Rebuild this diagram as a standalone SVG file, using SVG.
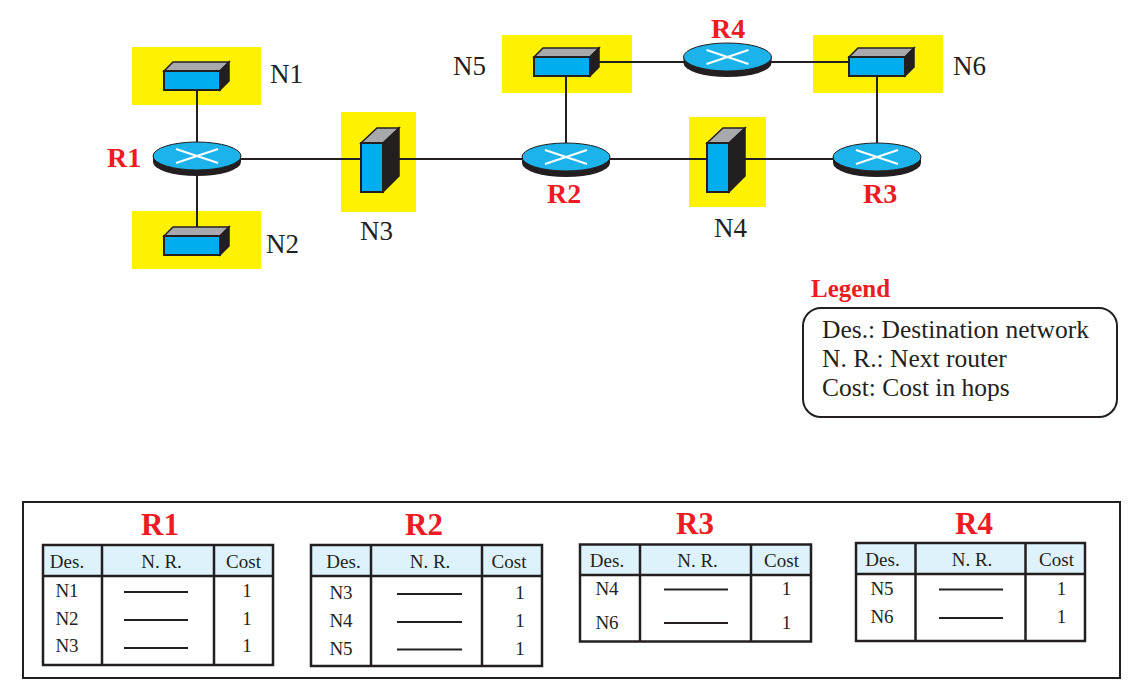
<svg xmlns="http://www.w3.org/2000/svg" width="1148" height="698" viewBox="0 0 1148 698">
<defs>
<style>
.bg{fill:#fff200}
.wire{stroke:#231f20;stroke-width:2;fill:none}
.lbl{font-family:"Liberation Serif","Times New Roman",serif;font-size:27px;fill:#231f20}
.rl{font-family:"Liberation Serif","Times New Roman",serif;font-size:28px;font-weight:bold;fill:#ed1c24}
.tt{font-family:"Liberation Serif","Times New Roman",serif;font-size:31px;font-weight:bold;fill:#ed1c24;text-anchor:middle}
.lg{font-family:"Liberation Serif","Times New Roman",serif;font-size:25.5px;fill:#231f20}
.tx{font-family:"Liberation Serif","Times New Roman",serif;font-size:19px;fill:#231f20;text-anchor:middle}
.hd{fill:#def2fb}
.tb{fill:none;stroke:#231f20;stroke-width:2.5}
.dash{stroke:#231f20;stroke-width:2}
</style>
<g id="router">
<path d="M-44,0 L-44,6 A44 14 0 0 0 44,6 L44,0 Z" fill="#231f20"/>
<ellipse cx="0" cy="0" rx="44" ry="14" fill="#1cb3ea" stroke="#231f20" stroke-width="1"/>
<path d="M-21,-7 L21,7 M-21,7 L21,-7" stroke="#fff" stroke-width="2"/>
</g>
<g id="hsw">
<polygon points="0,0 9,-9 65,-9 56,0" fill="#a7a9ac" stroke="#231f20" stroke-width="1.5"/>
<polygon points="56,0 65,-9 65,10 56,19" fill="#231f20" stroke="#231f20" stroke-width="1.5"/>
<rect x="0" y="0" width="56" height="19" fill="#00aeef" stroke="#231f20" stroke-width="2"/>
</g>
<g id="vsw">
<polygon points="0,0 16,-15 38,-15 22,0" fill="#a7a9ac" stroke="#231f20" stroke-width="1.5"/>
<polygon points="22,0 38,-15 38,33 22,49" fill="#231f20" stroke="#231f20" stroke-width="1.5"/>
<rect x="0" y="0" width="22" height="49" fill="#00aeef" stroke="#231f20" stroke-width="2"/>
</g>
</defs>
<rect width="1148" height="698" fill="#fff"/>

<g id="backgrounds">
<rect class="bg" x="132" y="47" width="129" height="58"/>
<rect class="bg" x="132" y="211" width="129" height="58"/>
<rect class="bg" x="341" y="112" width="75" height="100"/>
<rect class="bg" x="689" y="117" width="77" height="90"/>
<rect class="bg" x="502" y="35" width="130" height="58"/>
<rect class="bg" x="813" y="35" width="130" height="58"/>
</g>

<g id="connectors">
<line class="wire" x1="197" y1="159" x2="877" y2="159"/>
<line class="wire" x1="197" y1="90" x2="197" y2="237"/>
<line class="wire" x1="566" y1="76" x2="566" y2="157"/>
<line class="wire" x1="877" y1="76" x2="877" y2="157"/>
<line class="wire" x1="590" y1="62" x2="849" y2="62"/>
</g>

<g id="N1"><use href="#hsw" transform="translate(164,71)"/><text class="lbl" x="270" y="83">N1</text></g>
<g id="N2"><use href="#hsw" transform="translate(164,236)"/><text class="lbl" x="266" y="253">N2</text></g>
<g id="N3"><use href="#vsw" transform="translate(361,143)"/><text class="lbl" x="360" y="240">N3</text></g>
<g id="N4"><use href="#vsw" transform="translate(707,143)"/><text class="lbl" x="714" y="237">N4</text></g>
<g id="N5"><use href="#hsw" transform="translate(534,57)"/><text class="lbl" x="453" y="75">N5</text></g>
<g id="N6"><use href="#hsw" transform="translate(849,57)"/><text class="lbl" x="953" y="75">N6</text></g>

<g id="R1"><use href="#router" transform="translate(197,156)"/><text class="rl" x="107" y="167">R1</text></g>
<g id="R2"><use href="#router" transform="translate(566,157)"/><text class="rl" x="547" y="203">R2</text></g>
<g id="R3"><use href="#router" transform="translate(877,157)"/><text class="rl" x="863" y="203">R3</text></g>
<g id="R4"><use href="#router" transform="translate(727.5,57)"/><text class="rl" x="711" y="38">R4</text></g>

<g id="legend">
<text class="rl" x="811" y="297" style="font-size:25px">Legend</text>
<rect x="803" y="308" width="314" height="109" rx="18" fill="none" stroke="#231f20" stroke-width="2"/>
<text class="lg" x="822" y="338">Des.: Destination network</text>
<text class="lg" x="822" y="367">N. R.: Next router</text>
<text class="lg" x="822" y="396">Cost: Cost in hops</text>
</g>

<g id="tables">
<rect x="23" y="502" width="1097" height="176" fill="none" stroke="#231f20" stroke-width="2"/>

<g id="table-R1">
<text class="tt" x="160" y="535">R1</text>
<rect class="hd" x="43" y="545" width="230" height="31"/>
<rect class="tb" x="43" y="545" width="230" height="120"/>
<path class="tb" d="M43,576 H273 M102,545 V665 M214,545 V665"/>
<text class="tx" x="67" y="568">Des.</text>
<text class="tx" x="161.5" y="568">N. R.</text>
<text class="tx" x="243.5" y="568">Cost</text>
<text class="tx" x="67" y="597">N1</text>
<text class="tx" x="67" y="624.5">N2</text>
<text class="tx" x="67" y="652">N3</text>
<path class="dash" d="M124,592 H188 M124,620 H188 M124,648 H188"/>
<text class="tx" x="247" y="597">1</text>
<text class="tx" x="247" y="624.5">1</text>
<text class="tx" x="247" y="652">1</text>
</g>

<g id="table-R2">
<text class="tt" x="424" y="535">R2</text>
<rect class="hd" x="311" y="545" width="231" height="31"/>
<rect class="tb" x="311" y="545" width="231" height="121"/>
<path class="tb" d="M311,576 H542 M371,545 V666 M482,545 V666"/>
<text class="tx" x="343.5" y="568">Des.</text>
<text class="tx" x="430" y="568">N. R.</text>
<text class="tx" x="509" y="568">Cost</text>
<text class="tx" x="341" y="598.5">N3</text>
<text class="tx" x="341" y="627">N4</text>
<text class="tx" x="341" y="654.5">N5</text>
<path class="dash" d="M397,594 H462 M397,622 H462 M397,649.5 H462"/>
<text class="tx" x="520" y="598.5">1</text>
<text class="tx" x="520" y="627">1</text>
<text class="tx" x="520" y="654.5">1</text>
</g>

<g id="table-R3">
<text class="tt" x="695" y="533.5">R3</text>
<rect class="hd" x="580" y="544.5" width="231" height="30.5"/>
<rect class="tb" x="580" y="544.5" width="231" height="97"/>
<path class="tb" d="M580,575 H811 M640,544.5 V641.5 M751,544.5 V641.5"/>
<text class="tx" x="607" y="567">Des.</text>
<text class="tx" x="697.5" y="567">N. R.</text>
<text class="tx" x="781.5" y="567">Cost</text>
<text class="tx" x="607" y="595">N4</text>
<text class="tx" x="607" y="628.5">N6</text>
<path class="dash" d="M664,589.5 H728 M664,623 H728"/>
<text class="tx" x="786.5" y="595">1</text>
<text class="tx" x="786.5" y="628.5">1</text>
</g>

<g id="table-R4">
<text class="tt" x="974" y="534">R4</text>
<rect class="hd" x="856" y="543" width="229" height="31"/>
<rect class="tb" x="856" y="543" width="229" height="98"/>
<path class="tb" d="M856,574 H1085 M915.5,543 V641 M1025.5,543 V641"/>
<text class="tx" x="882.5" y="566">Des.</text>
<text class="tx" x="972" y="566">N. R.</text>
<text class="tx" x="1056.5" y="566">Cost</text>
<text class="tx" x="882" y="595">N5</text>
<text class="tx" x="882" y="623">N6</text>
<path class="dash" d="M939,589.5 H1003 M939,618 H1003"/>
<text class="tx" x="1061.5" y="595">1</text>
<text class="tx" x="1061.5" y="623">1</text>
</g>
</g>
</svg>
